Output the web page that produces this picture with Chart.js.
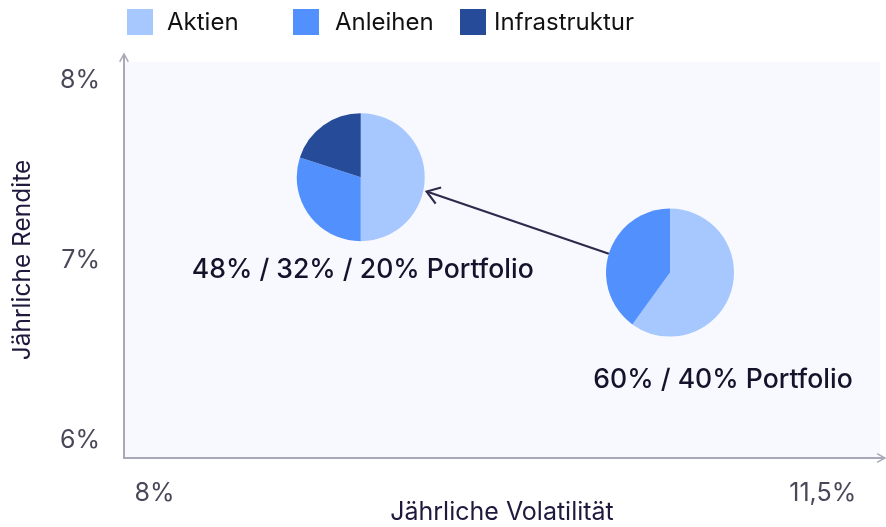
<!DOCTYPE html>
<html>
<head>
<meta charset="utf-8">
<script src="https://cdn.jsdelivr.net/npm/chart.js@4.4.0/dist/chart.umd.min.js"></script>
<style>
  body { margin: 0; background: #fff; }
  #wrap { position: relative; width: 886px; height: 527px; }
  #legend { position: absolute; left: 0; top: 9px; width: 886px; height: 26px; font-family: Inter, sans-serif; font-size: 24px; color: #111; }
  .box { position: absolute; top: 0; width: 26px; height: 26px; }
  .txt { position: absolute; top: -2px; line-height: 30px; }
</style>
</head>
<body>
<div id="wrap">
  <canvas id="chart" width="886" height="527"></canvas>
  <div id="legend"></div>
</div>
<script>
const categories = ['Aktien', 'Anleihen', 'Infrastruktur'];
const colors = ['#a7c7ff', '#5291fd', '#264c99'];

const portfolios = ['48% / 32% / 20% Portfolio', '60% / 40% Portfolio'];
const volatility = [9.08, 10.70];
const returns = [7.46, 6.93];
// slice shares per portfolio, in category order
const aktien = [50, 60];
const anleihen = [30, 40];
const infrastruktur = [20, 0];

const xTicks = [8, 11.5];
const xTickLabels = ['8%', '11,5%'];
const yTicks = [6, 7, 8];
const yTickLabels = ['6%', '7%', '8%'];

// layout bits (pixels)
const pieRadius = 64;
const labelOffsets = [[2, 93], [53, 107]];
const legendBoxX = [127, 293, 460];
const legendTextX = [167, 335, 494];

const legend = document.getElementById('legend');
categories.forEach((c, i) => {
  const box = document.createElement('span');
  box.className = 'box';
  box.style.left = legendBoxX[i] + 'px';
  box.style.background = colors[i];
  const t = document.createElement('span');
  t.className = 'txt';
  t.style.left = legendTextX[i] + 'px';
  t.textContent = c;
  legend.appendChild(box);
  legend.appendChild(t);
});

const axisColor = '#a9a8b8';

function chevron(ctx, tx, ty, ang, len, spread) {
  ctx.beginPath();
  ctx.moveTo(tx - len * Math.cos(ang - spread), ty - len * Math.sin(ang - spread));
  ctx.lineTo(tx, ty);
  ctx.lineTo(tx - len * Math.cos(ang + spread), ty - len * Math.sin(ang + spread));
  ctx.stroke();
}

const piePlugin = {
  id: 'pies',
  beforeDraw(chart) {
    const {ctx, chartArea: a} = chart;
    ctx.save();
    ctx.fillStyle = '#f8f9fe';
    ctx.fillRect(a.left, a.top, a.right - a.left, a.bottom - a.top);
    ctx.restore();
  },
  afterDatasetsDraw(chart) {
    const {ctx, chartArea: a, scales: {x, y}} = chart;
    ctx.save();
    // axes with arrows
    ctx.strokeStyle = axisColor;
    ctx.lineWidth = 2;
    ctx.beginPath();
    ctx.moveTo(a.left, a.top - 8);
    ctx.lineTo(a.left, a.bottom);
    ctx.lineTo(a.right + 5, a.bottom);
    ctx.stroke();
    ctx.lineWidth = 1.5;
    chevron(ctx, a.left, a.top - 8, -Math.PI / 2, 9, 0.5);
    chevron(ctx, a.right + 5, a.bottom, 0, 9, 0.5);

    const pts = volatility.map((v, i) => [x.getPixelForValue(v), y.getPixelForValue(returns[i])]);

    // arrow from the 60/40 to the 48/32/20 portfolio
    const [sx, sy] = pts[1], [ex, ey] = pts[0];
    const ang = Math.atan2(ey - sy, ex - sx);
    const x0 = sx + pieRadius * Math.cos(ang), y0 = sy + pieRadius * Math.sin(ang);
    const x1 = ex - (pieRadius + 5) * Math.cos(ang), y1 = ey - (pieRadius + 5) * Math.sin(ang) - 6;
    const ang2 = Math.atan2(y1 - y0, x1 - x0);
    ctx.strokeStyle = '#2e2a4c';
    ctx.lineWidth = 2.2;
    ctx.beginPath();
    ctx.moveTo(x0, y0);
    ctx.lineTo(x1, y1);
    ctx.stroke();
    chevron(ctx, x1, y1, ang2, 15, 0.6);

    // pies
    const shares = [aktien, anleihen, infrastruktur];
    pts.forEach(([px, py], i) => {
      const total = shares.reduce((s, arr) => s + arr[i], 0);
      let start = -Math.PI / 2;
      shares.forEach((arr, k) => {
        if (!arr[i]) return;
        const end = start + arr[i] / total * Math.PI * 2;
        ctx.beginPath();
        ctx.moveTo(px, py);
        ctx.arc(px, py, pieRadius, start, end);
        ctx.closePath();
        ctx.fillStyle = colors[k];
        ctx.fill();
        start = end;
      });
      ctx.fillStyle = '#17122c';
      ctx.font = '500 26.6px Inter';
      ctx.textAlign = 'center';
      ctx.textBaseline = 'middle';
      ctx.fillText(portfolios[i], px + labelOffsets[i][0], py + labelOffsets[i][1]);
    });
    ctx.restore();
  }
};

new Chart(document.getElementById('chart'), {
  type: 'scatter',
  data: {
    datasets: [{
      label: 'Portfolios',
      data: volatility.map((v, i) => ({x: v, y: returns[i]})),
      pointRadius: 0
    }]
  },
  options: {
    responsive: false,
    animation: false,
    devicePixelRatio: 1,
    layout: {padding: {top: 62, right: 6, left: 0, bottom: 0}},
    plugins: {legend: {display: false}, tooltip: {enabled: false}},
    scales: {
      x: {
        type: 'linear',
        min: 7.84,
        max: 11.8,
        afterBuildTicks: s => { s.ticks = xTicks.map(v => ({value: v})); },
        afterFit: s => { s.height = 69; },
        grid: {display: false, drawTicks: false},
        border: {display: false},
        ticks: {
          padding: 20,
          color: '#4a4759',
          font: {family: 'Inter', size: 25},
          callback: v => xTickLabels[xTicks.indexOf(v)]
        },
        title: {display: true, text: 'Jährliche Volatilität', color: '#1f1a3d', font: {family: 'Inter', size: 25}, padding: {top: -2, bottom: 0}}
      },
      y: {
        min: 5.9,
        max: 8.1,
        afterBuildTicks: s => { s.ticks = yTicks.map(v => ({value: v})); },
        afterFit: s => { s.width = 124; },
        grid: {display: false, drawTicks: false},
        border: {display: false},
        ticks: {
          padding: 24,
          color: '#4a4759',
          font: {family: 'Inter', size: 25},
          callback: v => yTickLabels[yTicks.indexOf(v)]
        },
        title: {display: true, text: 'Jährliche Rendite', color: '#1f1a3d', font: {family: 'Inter', size: 24.5}, padding: {top: 8, bottom: 0}}
      }
    }
  },
  plugins: [piePlugin]
});
</script>
</body>
</html>
